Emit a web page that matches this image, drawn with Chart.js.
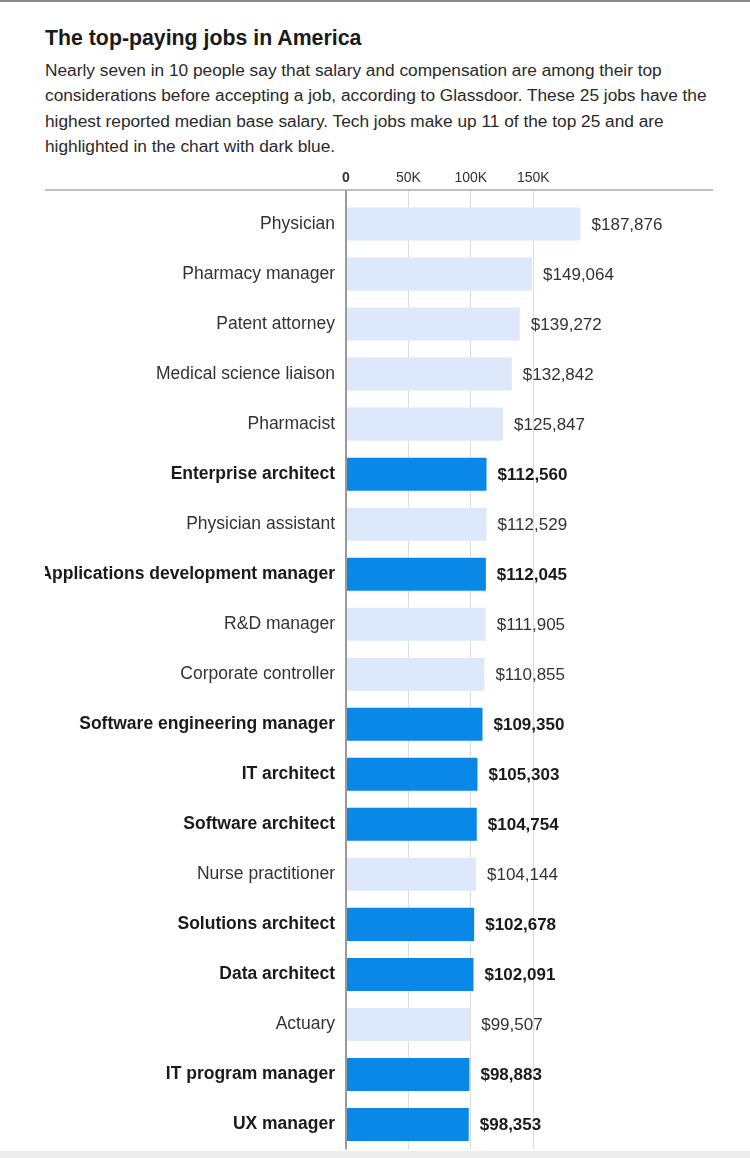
<!DOCTYPE html>
<html>
<head>
<meta charset="utf-8">
<script src="https://cdn.jsdelivr.net/npm/chart.js@4"></script>
<style>
  html, body { margin: 0; padding: 0; background: #fff; }
  body { width: 750px; height: 1158px; position: relative; overflow: hidden;
         font-family: "Liberation Sans", Arial, sans-serif; color: #222; }
  .topline { position: absolute; left: 0; top: 0; width: 750px; height: 2px; background: #8a8a8a; }
  .bottom { position: absolute; left: 0; top: 1151px; width: 750px; height: 7px; background: #ececec; }
  h1 { position: absolute; left: 45px; top: 26px; margin: 0; font-size: 21.3px; font-weight: bold; color: #1a1a1a; }
  .sub { position: absolute; left: 45px; top: 58px; width: 700px; margin: 0; white-space: nowrap;
         font-size: 17.3px; line-height: 25.3px; color: #2a2a2a; }
  .wrap { position: absolute; left: 45px; top: 160px; width: 668px; height: 1011px; }
</style>
</head>
<body>
<div class="topline"></div>
<h1>The top-paying jobs in America</h1>
<p class="sub">Nearly seven in 10 people say that salary and compensation are among their top<br>considerations before accepting a job, according to Glassdoor. These 25 jobs have the<br>highest reported median base salary. Tech jobs make up 11 of the top 25 and are<br>highlighted in the chart with dark blue.</p>
<div class="wrap"><canvas id="jobsChart"></canvas></div>
<div class="bottom"></div>
<script>
// jobs shown in the picture, top to bottom
const jobs = [
  'Physician', 'Pharmacy manager', 'Patent attorney', 'Medical science liaison',
  'Pharmacist', 'Enterprise architect', 'Physician assistant',
  'Applications development manager', 'R&D manager', 'Corporate controller',
  'Software engineering manager', 'IT architect', 'Software architect',
  'Nurse practitioner', 'Solutions architect', 'Data architect', 'Actuary',
  'IT program manager', 'UX manager'
];
const salaries = [
  187876, 149064, 139272, 132842, 125847, 112560, 112529, 112045, 111905,
  110855, 109350, 105303, 104754, 104144, 102678, 102091, 99507, 98883, 98353
];
const isTech = [
  false, false, false, false, false, true, false, true, false, false,
  true, true, true, false, true, true, false, true, true
];
const xTicks = [0, 50000, 100000, 150000];

const lightBlue = '#dde9fa';
const darkBlue = '#0a88e8';
const fontFamily = '"Liberation Sans", Arial, sans-serif';

const valueLabels = {
    id: 'valueLabels',
    afterDatasetsDraw(chart) {
        const ctx = chart.ctx;
        const meta = chart.getDatasetMeta(0);
        ctx.save();
        ctx.textBaseline = 'middle';
        ctx.textAlign = 'left';
        meta.data.forEach((bar, i) => {
            ctx.font = (isTech[i] ? 'bold ' : '') + '17px ' + fontFamily;
            ctx.fillStyle = isTech[i] ? '#1a1a1a' : '#333';
            ctx.fillText('$' + salaries[i].toLocaleString('en-US'), bar.x + 11, bar.y + 1);
        });
        ctx.restore();
    }
};

const headerLine = {
    id: 'headerLine',
    afterDraw(chart) {
        const ctx = chart.ctx;
        const y = chart.chartArea.top - 9;
        ctx.save();
        ctx.strokeStyle = '#a8a8a8';
        ctx.lineWidth = 1.5;
        ctx.beginPath();
        ctx.moveTo(0, y);
        ctx.lineTo(chart.chartArea.right, y);
        ctx.stroke();
        ctx.restore();
    }
};

new Chart(document.getElementById('jobsChart'), {
    type: 'bar',
    data: {
        labels: jobs,
        datasets: [{
            data: salaries,
            backgroundColor: isTech.map(t => t ? darkBlue : lightBlue),
            barPercentage: 0.66,
            categoryPercentage: 1
        }]
    },
    options: {
        indexAxis: 'y',
        responsive: true,
        maintainAspectRatio: false,
        animation: false,
        layout: { padding: 0 },
        plugins: {
            legend: { display: false },
            tooltip: { enabled: false }
        },
        scales: {
            x: {
                position: 'top',
                min: 0,
                max: 294000,
                afterBuildTicks: scale => { scale.ticks = xTicks.map(v => ({ value: v })); },
                afterFit: scale => { scale.height = 39; },
                border: { display: false },
                grid: {
                    color: ctx => ctx.tick && ctx.tick.value === 0 ? '#9a9a9a' : '#dcdcdc',
                    tickColor: ctx => ctx.tick && ctx.tick.value === 0 ? '#9a9a9a' : '#dcdcdc',
                    lineWidth: ctx => ctx.tick && ctx.tick.value === 0 ? 2 : 1,
                    tickLength: 9
                },
                ticks: {
                    padding: 3,
                    color: '#333',
                    font: ctx => ({ family: fontFamily, size: 14, weight: ctx.tick && ctx.tick.value === 0 ? 'bold' : 'normal' }),
                    callback: v => v === 0 ? '0' : (v / 1000) + 'K'
                }
            },
            y: {
                afterFit: scale => { scale.width = 301; },
                border: { display: false },
                grid: { display: false, drawTicks: false },
                ticks: {
                    padding: 11,
                    color: ctx => isTech[ctx.index] ? '#1a1a1a' : '#333',
                    font: ctx => ({ family: fontFamily, size: 17.5, weight: isTech[ctx.index] ? 'bold' : 'normal' })
                }
            }
        }
    },
    plugins: [valueLabels, headerLine]
});
</script>
</body>
</html>
